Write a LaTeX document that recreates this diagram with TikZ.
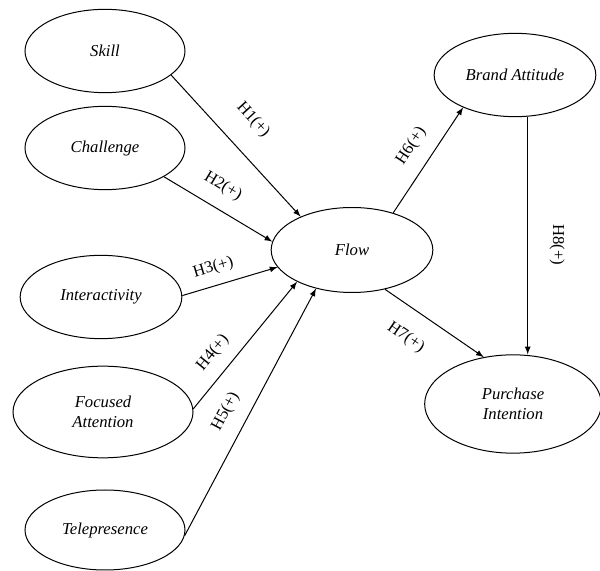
\documentclass[tikz,border=0pt]{standalone}
\usepackage{fontspec}
\setmainfont{Liberation Serif}
\usetikzlibrary{shapes.geometric,arrows}
\tikzset{>=latex}
\tikzset{construct/.style={ellipse, draw, line width=0.6pt, inner sep=0pt,
    minimum width=96pt, minimum height=50pt, font=\itshape, align=center}}
\tikzset{path/.style={->, line width=0.6pt}}
\tikzset{hyp/.style={font=\normalsize, sloped}}

\begin{document}
\begin{tikzpicture}[x=0.6pt, y=-0.6pt]
  \useasboundingbox (0,0) rectangle (600,571);
  % constructs
  \node[construct] (skill) at (105,51) {Skill};
  \node[construct] (challenge) at (105,148) {Challenge};
  \node[construct, minimum width=97pt] (interact) at (101,297) {Interactivity};
  \node[construct, minimum width=108pt, minimum height=55pt] (focus) at (103,412) {Focused\\Attention};
  \node[construct, minimum height=48pt] (telep) at (105,530) {Telepresence};
  \node[construct, minimum width=97pt, minimum height=51pt] (flow) at (352,250) {Flow};
  \node[construct, minimum width=97pt] (brand) at (515,75) {Brand Attitude};
  \node[construct, minimum width=106pt, minimum height=59pt] (purch) at (513,404) {Purchase\\Intention};
  % hypotheses
  \draw[path] (skill.-20) -- (flow.147) node[hyp, above=10pt, pos=.46] (h1) {H1(+)};
  \draw[path] (challenge.-26) -- (flow.174) node[hyp, above=5pt, pos=.44] (h2) {H2(+)};
  \draw[path] (interact.1) -- (flow.-167) node[hyp, above=2.5pt, pos=.38] (h3) {H3(+)};
  \draw[path] (focus.2) -- (flow.-150) node[hyp, above=4pt, pos=.34] (h4) {H4(+)};
  \draw[path] (telep.-4) -- (flow.-133) node[hyp, above=5pt, pos=.46] (h5) {H5(+)};
  \draw[path] (flow.42) -- (brand.-148) node[hyp, above=5pt, pos=.52] (h6) {H6(+)};
  \draw[path] (flow.-50) -- (purch.122) node[hyp, below=8.5pt, pos=.37] (h7) {H7(+)};
  \draw[path] (brand.-73) -- (brand.-73 |- purch.north) node[hyp, above=9.5pt, pos=.54] (h8) {H8(+)};
\end{tikzpicture}
\end{document}
